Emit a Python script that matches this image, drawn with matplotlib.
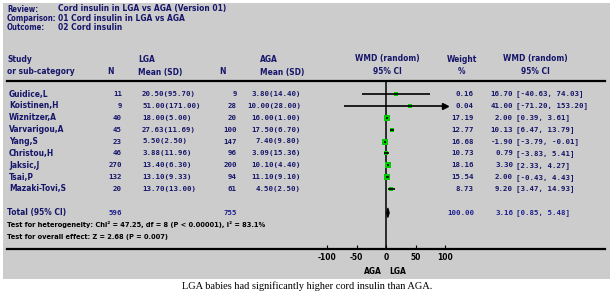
import matplotlib
matplotlib.use('Agg')
import matplotlib.pyplot as plt
import matplotlib.transforms as mtransforms
from matplotlib import font_manager
from matplotlib.patches import Rectangle, Polygon

W, H = 615, 292

studies = ['Guidice,L', 'Koistinen,H', 'Wiznitzer,A', 'Varvarigou,A', 'Yang,S',
           'Christou,H', 'Jaksic,J', 'Tsai,P', 'Mazaki-Tovi,S']
lga_n = [11, 9, 40, 45, 23, 46, 270, 132, 20]
lga_mean = [20.50, 51.00, 18.00, 27.63, 5.50, 3.88, 13.40, 13.10, 13.70]
lga_sd = [95.70, 171.00, 5.00, 11.69, 2.50, 11.96, 6.30, 9.33, 13.00]
aga_n = [9, 28, 20, 100, 147, 96, 200, 94, 61]
aga_mean = [3.80, 10.00, 16.00, 17.50, 7.40, 3.09, 10.10, 11.10, 4.50]
aga_sd = [14.40, 28.00, 1.00, 6.70, 9.80, 15.36, 4.40, 9.10, 2.50]
weight = [0.16, 0.04, 17.19, 12.77, 16.68, 10.73, 18.16, 15.54, 8.73]
wmd = [16.70, 41.00, 2.00, 10.13, -1.90, 0.79, 3.30, 2.00, 9.20]
ci_lo = [-40.63, -71.20, 0.39, 6.47, -3.79, -3.83, 2.33, -0.43, 3.47]
ci_hi = [74.03, 153.20, 3.61, 13.79, -0.01, 5.41, 4.27, 4.43, 14.93]

total_lga_n, total_aga_n = 596, 755
total_wmd, total_lo, total_hi = 3.16, 0.85, 5.48
heterogeneity = 'Test for heterogeneity: Chi\u00b2 = 47.25, df = 8 (P < 0.00001), I\u00b2 = 83.1%'
overall = 'Test for overall effect: Z = 2.68 (P = 0.007)'
axis_ticks = [-100, -50, 0, 50, 100]

navy = '#16166a'
blue = '#1e1e90'
gray = '#cccccc'
green = '#00cc00'
mono = 'DejaVu Sans Mono'

plt.rcParams['axes.unicode_minus'] = False

# pick a condensed sans if one is installed
fonts = {(f.name, f.stretch) for f in font_manager.fontManager.ttflist}
if any(n == 'Liberation Sans Narrow' for n, s in fonts):
    narrow = dict(family='Liberation Sans Narrow')
elif ('DejaVu Sans', 'condensed') in fonts or ('DejaVu Sans', 'semi-condensed') in fonts:
    narrow = dict(family='DejaVu Sans', fontstretch='condensed')
else:
    narrow = dict(family='Liberation Sans')

fig = plt.figure(figsize=(W / 100, H / 100), dpi=100)
fig.patch.set_facecolor('white')

# pixel coords, origin top-left
px = mtransforms.Affine2D().scale(1 / W, -1 / H).translate(0, 1) + fig.transFigure
fig.patches.append(Rectangle((3, 3), 607, 276, transform=px, facecolor=gray,
                             edgecolor='none', zorder=-5))

# forest axes: spans the table width, 0 at px 386, 0.59 px per unit
x0px, x1px, zero_px, scale = 7, 605, 386, 0.59
top_px, bot_px = 81, 249
ax = fig.add_axes([x0px / W, 1 - bot_px / H, (x1px - x0px) / W, (bot_px - top_px) / H])
ax.set_facecolor('none')
ax.set_xlim((x0px - zero_px) / scale, (x1px - zero_px) / scale)
row_px = 11.875
ax.set_ylim((bot_px - 94) / row_px, (top_px - 94) / row_px)
for s in ['left', 'right']:
    ax.spines[s].set_visible(False)
for s in ['top', 'bottom']:
    ax.spines[s].set_linewidth(1.6)
    ax.spines[s].set_color('black')
ax.set_yticks([])
ax.set_xticks(axis_ticks)
ax.tick_params(axis='x', direction='in', length=3, width=0.8, pad=3,
               labelsize=6, labelcolor='black')
for lab in ax.get_xticklabels():
    lab.set(fontweight='bold', **narrow)
ax.axvline(0, color='black', lw=1.1, zorder=2)

xlim_hi = max(axis_ticks)
for i in range(len(studies)):
    hi = min(ci_hi[i], xlim_hi)
    ax.plot([ci_lo[i], hi], [i, i], color='black', lw=1.2, zorder=4,
            solid_capstyle='butt')
    if ci_hi[i] > xlim_hi:
        ax.plot([xlim_hi], [i], marker='>', color='black', markersize=4, zorder=4)
    side = 3.5 + 0.1 * weight[i]
    ax.plot([wmd[i]], [i], marker='s', color=green, markersize=side * 0.72,
            markeredgewidth=0, zorder=3)

total_row = len(studies) + 1
ax.add_patch(Polygon([(total_lo, total_row), (total_wmd, total_row - 0.4),
                      (total_hi, total_row), (total_wmd, total_row + 0.4)],
                     closed=True, facecolor='black', edgecolor='black', lw=0.8,
                     zorder=4))

# text helpers
rowtr = mtransforms.blended_transform_factory(
    mtransforms.Affine2D().scale(1 / W, 1) + fig.transFigure, ax.transData)


def ptext(x, y, s, ha='left', **kw):
    for k, v in narrow.items():
        kw.setdefault(k, v)
    kw.setdefault('fontweight', 'bold')
    kw.setdefault('fontsize', 6)
    kw.setdefault('color', navy)
    fig.text(x, y, s, transform=px, ha=ha, va='center', **kw)


def rtext(x, row, s, ha='left', **kw):
    kw.setdefault('family', mono)
    kw.setdefault('fontweight', 'bold')
    kw.setdefault('fontsize', 5.3)
    kw.setdefault('color', navy)
    fig.text(x, row, s, transform=rowtr, ha=ha, va='center', **kw)


def ntext(x, row, s, **kw):
    kw = dict(narrow, **kw)
    kw.setdefault('fontsize', 6)
    rtext(x, row, s, **kw)


# header block
ptext(7, 9, 'Review:', fontsize=5.6)
ptext(58, 9, 'Cord insulin in LGA vs AGA (Version 01)')
ptext(7, 18.5, 'Comparison:', fontsize=5.6)
ptext(58, 18.5, '01 Cord insulin in LGA vs AGA')
ptext(7, 28, 'Outcome:', fontsize=5.6)
ptext(58, 28, '02 Cord insulin')

ptext(7, 59, 'Study')
ptext(7, 72, 'or sub-category')
ptext(110, 72, 'N', ha='center')
ptext(138, 59, 'LGA')
ptext(138, 72, 'Mean (SD)')
ptext(223, 72, 'N', ha='center')
ptext(260, 59, 'AGA')
ptext(260, 72, 'Mean (SD)')
ptext(387, 59, 'WMD (random)', ha='center')
ptext(387, 72, '95% CI', ha='center')
ptext(462, 59, 'Weight', ha='center')
ptext(462, 72, '%', ha='center')
ptext(535, 59, 'WMD (random)', ha='center')
ptext(535, 72, '95% CI', ha='center')

for i, name in enumerate(studies):
    ntext(9, i, name)
    rtext(122, i, str(lga_n[i]), ha='right')
    rtext(142, i, '%.2f(%.2f)' % (lga_mean[i], lga_sd[i]))
    rtext(237, i, str(aga_n[i]), ha='right')
    rtext(301, i, '%.2f(%.2f)' % (aga_mean[i], aga_sd[i]), ha='right')
    rtext(474, i, '%.2f' % weight[i], ha='right')
    rtext(513, i, '%.2f' % wmd[i], ha='right')
    rtext(516, i, '[%.2f, %.2f]' % (ci_lo[i], ci_hi[i]))

ntext(7, total_row, 'Total (95% CI)')
rtext(122, total_row, str(total_lga_n), ha='right', color=blue)
rtext(237, total_row, str(total_aga_n), ha='right', color=blue)
rtext(474, total_row, '%.2f' % sum(weight), ha='right', color=blue)
rtext(513, total_row, '%.2f' % total_wmd, ha='right', color=blue)
rtext(516, total_row, '[%.2f, %.2f]' % (total_lo, total_hi), color=blue)
ntext(7, total_row + 1, heterogeneity, color='black', fontsize=5.3)
ntext(7, total_row + 2, overall, color='black', fontsize=5.3)

ptext(373, 272, 'AGA', ha='center', color='black')
ptext(398, 272, 'LGA', ha='center', color='black')

fig.text(307, 286, 'LGA babies had significantly higher cord insulin than AGA.',
         transform=px, ha='center', va='center', family='Liberation Serif',
         fontsize=7.5, color='black')

fig.savefig('out.png', dpi=100)
